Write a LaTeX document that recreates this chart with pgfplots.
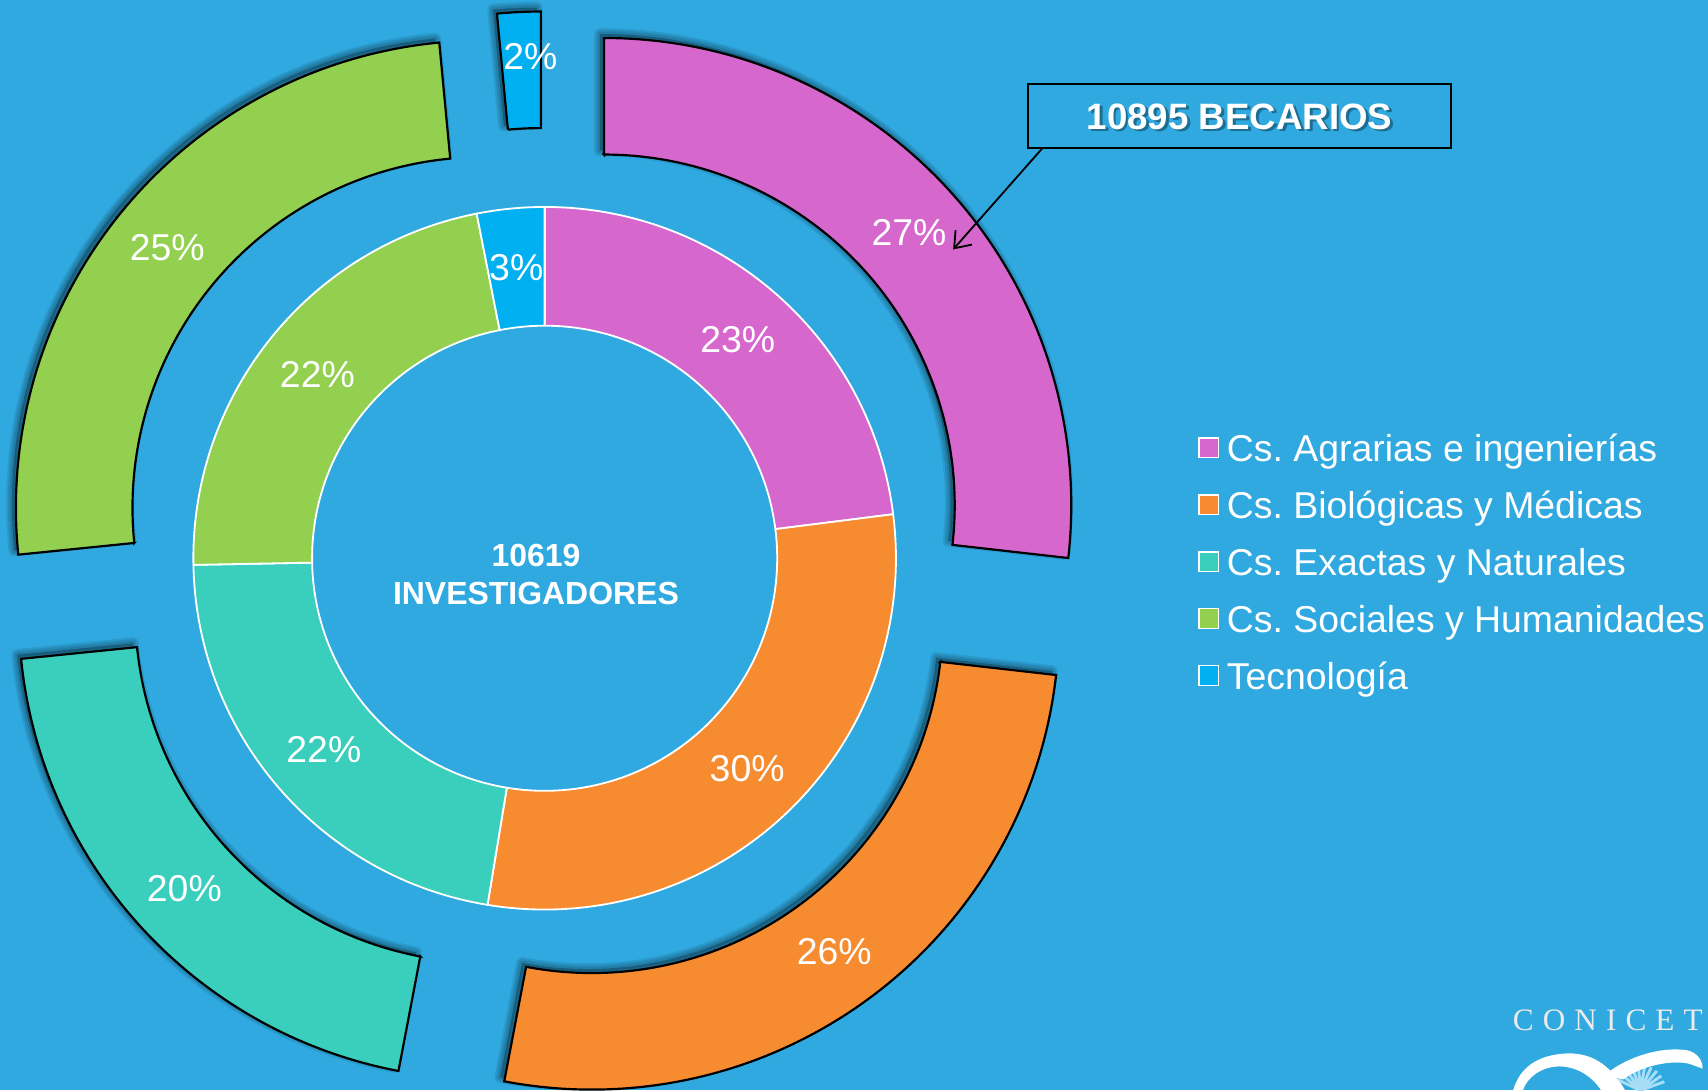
\documentclass[border=0pt]{standalone}
\usepackage{pgfplots}
\pgfplotsset{compat=1.18}
\usepackage{pgfplotstable}
\usetikzlibrary{arrows.meta}
\usepackage{fontspec}
\setmainfont{Liberation Sans}
\newfontfamily\logofont[LetterSpace=29]{Liberation Serif}
\definecolor{bg}{HTML}{2FA9E0}
\definecolor{cpink}{HTML}{D667CD}
\definecolor{corange}{HTML}{F68B30}
\definecolor{cteal}{HTML}{3ACEBD}
\definecolor{cgreen}{HTML}{93D050}
\definecolor{ctec}{HTML}{00B0F0}
\definecolor{csun}{HTML}{A8DDF6}
\newcommand{\pctfont}{\fontsize{10.3}{12.3}\selectfont}
\def\unitpt{0.3}
\frenchspacing

% Investigadores (inner ring), percentages
\pgfplotstableread{
label val pct col ldx ldy
Agrarias 23.0 23 cpink 0 0
Biologicas 29.6 30 corange 0 0
Exactas 22.1 22 cteal 0 0
Sociales 22.2 22 cgreen 0 0
Tecnologia 3.1 3 ctec 0 0
}\innerdata

% Becarios (outer ring), percentages
\pgfplotstableread{
label val pct col ldx ldy
Agrarias 26.8 27 cpink 0 0
Biologicas 26.2 26 corange 0 0
Exactas 20.4 20 cteal 0 0
Sociales 25.1 25 cgreen 0 0
Tecnologia 1.5 2 ctec 8 13
}\outerdata

\newcommand{\drawring}[6]{%
  \pgfplotstablegetrowsof{#1}%
  \pgfmathtruncatemacro{\nrows}{\pgfplotsretval-1}%
  \xdef\curang{90}%
  \foreach \i in {0,...,\nrows}{%
    \pgfplotstablegetelem{\i}{val}\of{#1}\let\sval\pgfplotsretval
    \pgfplotstablegetelem{\i}{col}\of{#1}\let\scol\pgfplotsretval
    \pgfplotstablegetelem{\i}{pct}\of{#1}\let\spct\pgfplotsretval
    \pgfplotstablegetelem{\i}{ldx}\of{#1}\let\sldx\pgfplotsretval
    \pgfplotstablegetelem{\i}{ldy}\of{#1}\let\sldy\pgfplotsretval
    \pgfmathsetmacro{\sa}{\curang}%
    \pgfmathsetmacro{\se}{\sa-3.6*\sval}%
    \pgfmathsetmacro{\sm}{(\sa+\se)/2}%
    \pgfmathsetmacro{\ox}{500+#4*cos(\sm)}%
    \pgfmathsetmacro{\oy}{488.5+#4*sin(\sm)}%
    \pgfmathsetmacro{\xa}{\ox+#2*cos(\sa)}\pgfmathsetmacro{\ya}{\oy+#2*sin(\sa)}%
    \pgfmathsetmacro{\xb}{\ox+#3*cos(\sa)}\pgfmathsetmacro{\yb}{\oy+#3*sin(\sa)}%
    \pgfmathsetmacro{\xc}{\ox+#2*cos(\se)}\pgfmathsetmacro{\yc}{\oy+#2*sin(\se)}%
    \pgfmathsetmacro{\lx}{\ox+(#2+#3)/2*cos(\sm)+\sldx}%
    \pgfmathsetmacro{\ly}{\oy+(#2+#3)/2*sin(\sm)+\sldy}%
    \pgfmathsetmacro{\Ri}{#2*\unitpt}\pgfmathsetmacro{\Ro}{#3*\unitpt}%
    \def\spath{(axis cs:\xa,\ya) -- (axis cs:\xb,\yb) arc[start angle=\sa, end angle=\se, radius=\Ro pt] -- (axis cs:\xc,\yc) arc[start angle=\se, end angle=\sa, radius=\Ri pt] -- cycle}%
    \ifnum#6=1
      \foreach \w in {3.2,2.2,1.2}{\path[fill=black, fill opacity=0.09, draw=black, draw opacity=0.09, line width=\w pt, line join=round, xshift=-1.1pt, yshift=1.1pt] \spath;}%
    \fi
    \path[fill=\scol, #5] \spath;
    \node[text=white, font=\pctfont, inner sep=0pt] at (axis cs:\lx,\ly) {\spct\%};
    \xdef\curang{\se}%
  }%
}

\begin{document}
\begin{tikzpicture}
\begin{axis}[
  hide axis, scale only axis,
  width=470.4pt, height=300.3pt,
  xmin=0, xmax=1568, ymin=0, ymax=1001,
  enlargelimits=false, clip=false,
  legend cell align=left,
  legend image code/.code={\draw[#1] (0pt,-1.5pt) rectangle (5.4pt,3.9pt); \path (7.5pt,0pt);},
  legend style={at={(axis cs:1100,602)}, anchor=north west, draw=none, fill=none,
    text=white, font=\fontsize{10.3}{12}\selectfont, inner sep=0pt, outer sep=0pt,
    row sep=5.97pt,
    nodes={inner sep=0pt, text height=7.5pt, text depth=2.2pt}},
]
\pgfplotsextra{\fill[bg] (axis cs:0,0) rectangle (axis cs:1568,1001);}
\pgfplotsextra{\drawring{\innerdata}{213.5}{322.5}{0}{draw=white, line width=0.5pt, line join=round}{0}}
\pgfplotsextra{\drawring{\outerdata}{322}{429}{73}{draw=black, line width=0.6pt, line join=miter}{1}}
\pgfplotsextra{%
  \node[text=white, font=\fontsize{8.8}{10.5}\selectfont\bfseries, align=center, inner sep=0pt] at (axis cs:492,473.5) {10619\\INVESTIGADORES};
  % callout
  \draw[black, line width=0.5pt] (axis cs:944,924) rectangle (axis cs:1332,865);
  \node[text=black, opacity=0.35, font=\fontsize{10.1}{12}\selectfont\bfseries, inner sep=0pt] at (axis cs:1140.5,891.5) {10895 BECARIOS};
  \node[text=white, font=\fontsize{10.1}{12}\selectfont\bfseries, inner sep=0pt] at (axis cs:1138,894) {10895 BECARIOS};
  \draw[black, line width=0.5pt, -{Straight Barb[length=4pt, width=6pt]}] (axis cs:957,865) -- (axis cs:875,772);
  % logo
  \node[text=white!92!black, font=\logofont\fontsize{8.6}{10}\selectfont, inner sep=0pt] at (axis cs:1476,64) {CONICET};
  \foreach \ang in {20,35,...,160}{\draw[csun, line width=0.8pt] (axis cs:1506,0) -- ++(\ang:7pt);}
  \fill[white] (axis cs:1389,0) .. controls (axis cs:1395,20) and (axis cs:1410,33) .. (axis cs:1440,34) .. controls (axis cs:1465,34) and (axis cs:1480,20) .. (axis cs:1492,0) -- (axis cs:1470,0) .. controls (axis cs:1460,15) and (axis cs:1445,22) .. (axis cs:1432,22) .. controls (axis cs:1415,22) and (axis cs:1402,12) .. (axis cs:1398,0) -- cycle;
  \fill[white] (axis cs:1473,14) .. controls (axis cs:1495,32) and (axis cs:1525,40) .. (axis cs:1548,37) .. controls (axis cs:1558,35) and (axis cs:1563,28) .. (axis cs:1563,20) -- (axis cs:1552,24) .. controls (axis cs:1540,28) and (axis cs:1510,25) .. (axis cs:1490,10) -- cycle;
}
\addlegendimage{fill=cpink, draw=white, line width=0.4pt}
\addlegendentry{Cs. Agrarias e ingenierías}
\addlegendimage{fill=corange, draw=white, line width=0.4pt}
\addlegendentry{Cs. Biológicas y Médicas}
\addlegendimage{fill=cteal, draw=white, line width=0.4pt}
\addlegendentry{Cs. Exactas y Naturales}
\addlegendimage{fill=cgreen, draw=white, line width=0.4pt}
\addlegendentry{Cs. Sociales y Humanidades}
\addlegendimage{fill=ctec, draw=white, line width=0.4pt}
\addlegendentry{Tecnología}
\end{axis}
\pgfresetboundingbox
\path[use as bounding box] (current axis.south west) rectangle (current axis.north east);
\end{tikzpicture}
\end{document}
